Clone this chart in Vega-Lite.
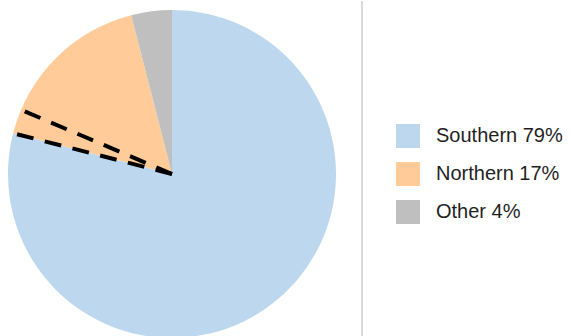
{
  "$schema": "https://vega.github.io/schema/vega-lite/v6.json",
  "width": 362,
  "height": 346,
  "padding": 0,
  "autosize": {"type": "pad"},
  "background": "white",
  "config": {"view": {"stroke": null}},
  "datasets": {
    "shares": [
      {"label": "Southern 79%", "value": 79, "rank": 1},
      {"label": "Northern 17%", "value": 17, "rank": 2},
      {"label": "Other 4%", "value": 4, "rank": 3}
    ],
    "marks": [
      {"mark": "a", "pos": 79},
      {"mark": "b", "pos": 81.4}
    ],
    "divider": [{"side": 1}]
  },
  "layer": [
    {
      "data": {"name": "shares"},
      "mark": {"type": "arc", "x": 172, "y": 173, "radius": 164, "strokeWidth": 0},
      "encoding": {
        "theta": {"field": "value", "type": "quantitative", "stack": true, "scale": {"domain": [0, 100]}},
        "order": {"field": "rank", "type": "quantitative"},
        "color": {
          "field": "label",
          "type": "nominal",
          "scale": {
            "domain": ["Southern 79%", "Northern 17%", "Other 4%"],
            "range": ["#bdd7ee", "#ffcc99", "#bfbfbf"]
          },
          "legend": {
            "orient": "none",
            "legendX": 396,
            "legendY": 123,
            "title": null,
            "padding": 0,
            "symbolType": "square",
            "symbolSize": 576,
            "symbolStrokeWidth": 0,
            "symbolOpacity": 1,
            "labelFont": "Liberation Sans",
            "labelFontSize": 20,
            "labelColor": "#1f1f1f",
            "labelOffset": 16,
            "labelLimit": 300,
            "rowPadding": 14
          }
        }
      }
    },
    {
      "data": {"name": "marks"},
      "mark": {
        "type": "arc",
        "x": 172,
        "y": 173,
        "radius": 160,
        "fill": "transparent",
        "stroke": "black",
        "strokeWidth": 4,
        "strokeDash": [17, 11.6, 17, 11.6, 17, 11.6, 17, 11.6, 17, 11.6, 17, 400]
      },
      "encoding": {
        "theta": {"field": "pos", "type": "quantitative", "scale": {"domain": [0, 100]}},
        "theta2": {"field": "pos"}
      }
    },
    {
      "data": {"name": "divider"},
      "mark": {"type": "rule", "stroke": "#d9d9d9", "strokeWidth": 2},
      "encoding": {
        "x": {"field": "side", "type": "quantitative", "scale": {"domain": [0, 1]}, "axis": null}
      }
    }
  ]
}
